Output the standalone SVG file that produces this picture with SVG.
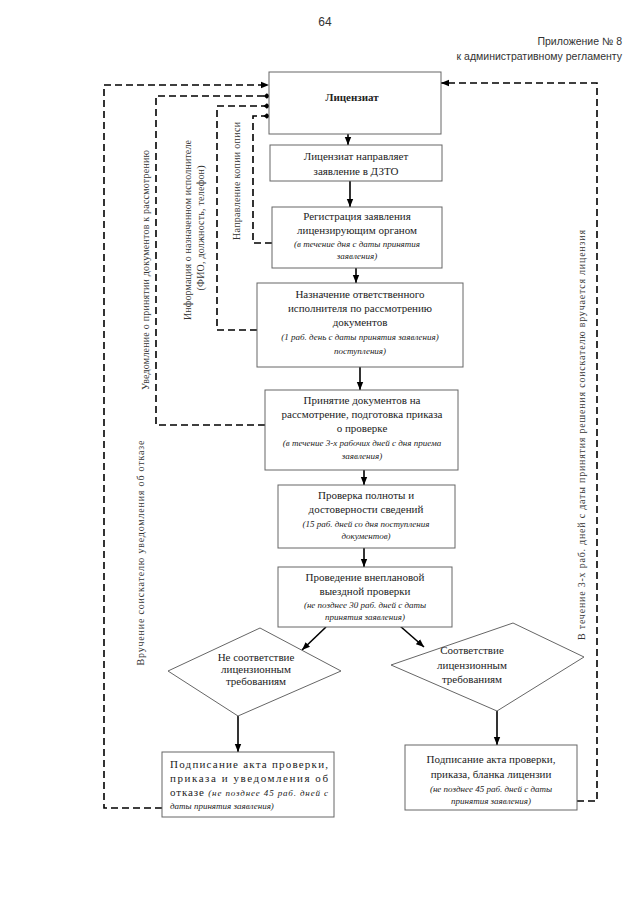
<svg xmlns="http://www.w3.org/2000/svg" width="640" height="905" viewBox="0 0 640 905">
<defs>
<marker id="ah" viewBox="0 0 10 10" refX="10" refY="5" markerWidth="8" markerHeight="8" markerUnits="userSpaceOnUse" orient="auto"><path d="M0,1 L10,5 L0,9 z" fill="#000"/></marker>
<marker id="dm" viewBox="0 0 10 10" refX="8" refY="5" markerWidth="7" markerHeight="7" markerUnits="userSpaceOnUse" orient="auto"><path d="M0,5 L5,1 L10,5 L5,9 z" fill="#000"/></marker>
</defs>
<style>
.box{fill:#fff;stroke:#666;stroke-width:1}
.t{font-family:"Liberation Serif","DejaVu Serif",serif;font-size:11px;fill:#222;text-anchor:middle}
.s{text-anchor:start}
.i{font-style:italic;font-size:9px}
.v{font-family:"Liberation Serif","DejaVu Serif",serif;font-size:10px;fill:#333;text-anchor:middle}
.sol{stroke:#000;stroke-width:1.6;fill:none}
.dash{stroke:#000;stroke-width:1.6;fill:none;stroke-dasharray:7 4}
.h{font-family:"Liberation Sans",Arial,sans-serif;fill:#333}
</style>
<rect width="640" height="905" fill="#fff"/>
<g id="header">
<text class="h" x="325" y="26" font-size="12" text-anchor="middle">64</text>
<text class="h" x="622" y="45" font-size="10.5" text-anchor="end">Приложение № 8</text>
<text class="h" x="622" y="60" font-size="10.5" text-anchor="end">к административному регламенту</text>
</g>
<g id="connectors">
<line class="sol" x1="348" y1="134" x2="348" y2="145" marker-end="url(#ah)"/>
<line class="sol" x1="350" y1="181" x2="350" y2="207" marker-end="url(#ah)"/>
<line class="sol" x1="356" y1="268" x2="356" y2="283" marker-end="url(#ah)"/>
<line class="sol" x1="360" y1="367" x2="360" y2="390" marker-end="url(#ah)"/>
<line class="sol" x1="364" y1="470" x2="364" y2="485" marker-end="url(#ah)"/>
<line class="sol" x1="364" y1="548" x2="364" y2="567" marker-end="url(#ah)"/>
<line class="sol" x1="326" y1="627" x2="302" y2="650" marker-end="url(#ah)"/>
<line class="sol" x1="400" y1="626" x2="424" y2="647" marker-end="url(#ah)"/>
<line class="sol" x1="238" y1="716" x2="238" y2="752" marker-end="url(#ah)"/>
<line class="sol" x1="497" y1="711" x2="497" y2="745" marker-end="url(#ah)"/>
<polyline class="dash" points="162,808 104,808 104,85 269,85" marker-end="url(#ah)"/>
<polyline class="dash" points="265,425 156,425 156,96 269,96" marker-end="url(#dm)"/>
<polyline class="dash" points="257,330 217,330 217,106 269,106" marker-end="url(#dm)"/>
<polyline class="dash" points="272,243 253,243 253,116 269,116" marker-end="url(#dm)"/>
<polyline class="dash" points="577,801 597,801 597,83 441,83" marker-end="url(#ah)"/>
</g>
<g id="label-uved">
<text class="v" transform="translate(149,270) rotate(-90)" textLength="240" lengthAdjust="spacing">Уведомление о принятии документов к рассмотрению</text>
</g>
<g id="label-info">
<text class="v" transform="translate(191,230) rotate(-90)" textLength="180" lengthAdjust="spacing">Информация о назначенном исполнителе</text>
<text class="v" transform="translate(204,228) rotate(-90)" textLength="125" lengthAdjust="spacing">(ФИО, должность, телефон)</text>
</g>
<g id="label-kopii">
<text class="v" transform="translate(240,181) rotate(-90)" textLength="118" lengthAdjust="spacing">Направление копии описи</text>
</g>
<g id="label-vruch">
<text class="v" transform="translate(144,553) rotate(-90)" textLength="225" lengthAdjust="spacing">Вручение соискателю уведомления об отказе</text>
</g>
<g id="label-licenzia">
<text class="v" transform="translate(585,435) rotate(-90)" textLength="410" lengthAdjust="spacing">В течение 3-х раб. дней с даты принятия решения соискателю вручается лицензия</text>
</g>
<g id="n1">
<rect class="box" x="269" y="72" width="172" height="62"/>
<text class="t" x="352" y="101" font-weight="bold">Лицензиат</text>
</g>
<g id="n2">
<rect class="box" x="270" y="145" width="172" height="36"/>
<text class="t" x="356" y="160">Лицензиат направляет</text>
<text class="t" x="356" y="175">заявление в ДЗТО</text>
</g>
<g id="n3">
<rect class="box" x="272" y="207" width="170" height="61"/>
<text class="t" x="357" y="220">Регистрация заявления</text>
<text class="t" x="357" y="234">лицензирующим органом</text>
<text class="t i" x="357" y="247">(в течение дня с даты принятия</text>
<text class="t i" x="357" y="259">заявления)</text>
</g>
<g id="n4">
<rect class="box" x="257" y="283" width="206" height="84"/>
<text class="t" x="360" y="298">Назначение ответственного</text>
<text class="t" x="360" y="312">исполнителя по рассмотрению</text>
<text class="t" x="360" y="326">документов</text>
<text class="t i" x="360" y="340">(1 раб. день с даты принятия заявления)</text>
<text class="t i" x="360" y="354">поступления)</text>
</g>
<g id="n5">
<rect class="box" x="265" y="390" width="193" height="80"/>
<text class="t" x="362" y="404">Принятие документов  на</text>
<text class="t" x="362" y="418">рассмотрение, подготовка приказа</text>
<text class="t" x="362" y="432">о проверке</text>
<text class="t i" x="362" y="446">(в течение 3-х рабочих дней с дня приема</text>
<text class="t i" x="362" y="459">заявления)</text>
</g>
<g id="n6">
<rect class="box" x="278" y="485" width="177" height="63"/>
<text class="t" x="366" y="499">Проверка полноты и</text>
<text class="t" x="366" y="513">достоверности сведений</text>
<text class="t i" x="366" y="527">(15 раб. дней со дня поступления</text>
<text class="t i" x="366" y="539">документов)</text>
</g>
<g id="n7">
<rect class="box" x="278" y="567" width="174" height="60"/>
<text class="t" x="365" y="581">Проведение внеплановой</text>
<text class="t" x="365" y="595">выездной проверки</text>
<text class="t i" x="365" y="608">(не позднее 30 раб. дней с даты</text>
<text class="t i" x="365" y="620">принятия заявления)</text>
</g>
<g id="d1">
<polygon class="box" points="168,671 260,628 341,671 238,716"/>
<text class="t" x="256" y="661" font-size="8.5">Не соответствие</text>
<text class="t" x="256" y="673" font-size="9.5">лицензионным</text>
<text class="t" x="256" y="685" font-size="9.5">требованиям</text>
</g>
<g id="d2">
<polygon class="box" points="391,665 513,623 584,657 497,711"/>
<text class="t" x="472" y="654">Соответствие</text>
<text class="t" x="472" y="669">лицензионным</text>
<text class="t" x="472" y="683">требованиям</text>
</g>
<g id="n8">
<rect class="box" x="162" y="752" width="172" height="65"/>
<text class="t s" x="170" y="768" textLength="158" lengthAdjust="spacing">Подписание акта проверки,</text>
<text class="t s" x="170" y="782" textLength="158" lengthAdjust="spacing">приказа и уведомления об</text>
<text class="t s" x="170" y="796" textLength="158" lengthAdjust="spacing">отказе <tspan class="i">(не позднее 45 раб. дней с</tspan></text>
<text class="t s i" x="170" y="809">даты принятия заявления)</text>
</g>
<g id="n9">
<rect class="box" x="405" y="745" width="172" height="65"/>
<text class="t" x="491" y="763">Подписание акта проверки,</text>
<text class="t" x="491" y="778">приказа, бланка лицензии</text>
<text class="t i" x="491" y="792">(не позднее 45 раб. дней с даты</text>
<text class="t i" x="491" y="804">принятия заявления)</text>
</g>
</svg>
